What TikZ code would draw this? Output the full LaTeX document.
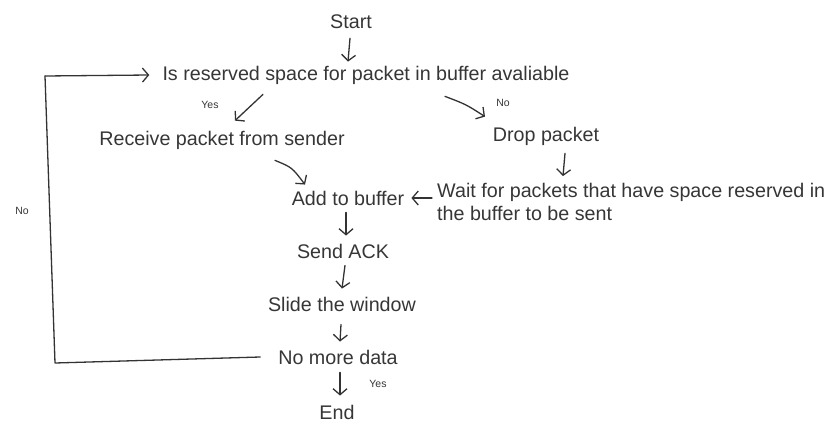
\documentclass[tikz,border=0pt]{standalone}
\usepackage{fontspec}
\setmainfont{Liberation Sans}
\usetikzlibrary{arrows.meta,calc}
\definecolor{ink}{HTML}{333333}
\definecolor{txt}{HTML}{363636}
\tikzset{
  lbl/.style={inner sep=0pt,text=txt,font=\fontsize{19.7}{23}\selectfont},
  small/.style={inner sep=0pt,text=txt,font=\fontsize{10.5}{12}\selectfont},
  arr/.style={draw=ink,line width=1.3pt,line cap=round,line join=round,-{Straight Barb[length=6pt,width=14pt,line width=1.3pt]}},
  ln/.style={draw=ink,line width=1.3pt,line cap=round,line join=round}
}
\begin{document}
\begin{tikzpicture}[x=1pt,y=-1pt]
\useasboundingbox (0,0) rectangle (830,436);
\node[lbl] (start) at (351,22) {Start};
\node[lbl] (q) at (366,75) {Is reserved space for packet in buffer avaliable};
\node[lbl] (recv) at (222,140) {Receive packet from sender};
\node[lbl] (drop) at (546,136) {Drop packet};
\node[lbl] (add) at (348,198) {Add to buffer};
\node[lbl,anchor=west,align=left] (wait) at (437,202) {Wait for packets that have space reserved in\\the buffer to be sent};
\node[lbl] (ack) at (343,251) {Send ACK};
\node[lbl] (slide) at (342,304) {Slide the window};
\node[lbl] (nomore) at (338,357) {No more data};
\node[lbl] (end) at (337,412) {End};
\node[small] (yes1) at (210,105) {Yes};
\node[small] (no1) at (503,103) {No};
\node[small] (no2) at (22,211) {No};
\node[small] (yes2) at (378,384) {Yes};
\coordinate (c1) at (55,363);
\coordinate (c2) at (45,76);
\draw[arr] ($(start.south)+(-1,9)$) -- ($(q.north)+(-18,-4)$);
\draw[arr] ($(q.south)+(-103,10)$) -- ($(recv.north)+(13,-10)$);
\draw[arr] ($(q.south)+(79,12)$) .. controls ($(q.south)+(100,20)$) .. ($(drop.north)+(-61,-10)$);
\draw[arr] ($(drop.south)+(19,8)$) -- ($(wait.north west)+(126,-7)$);
\draw[arr] ($(wait.west)+(-5,-4)$) -- ($(add.east)+(7,0)$);
\draw[arr] ($(recv.south)+(53,11)$) .. controls ($(recv.south)+(70,18)$) .. ($(add.north)+(-43,-6)$);
\draw[arr] ($(add.south)+(-2,7)$) -- ($(ack.north)+(3,-8)$);
\draw[arr] ($(ack.south)+(2,7)$) -- ($(slide.north)+(0,-8)$);
\draw[arr] ($(slide.south)+(-1,13)$) -- ($(nomore.north)+(2,-8)$);
\draw[arr] ($(nomore.south)+(2,8)$) -- ($(end.north)+(3,-9)$);
\draw[ln] ($(nomore.west)+(-18,0)$) -- (c1) -- (c2);
\draw[arr] (c2) -- ($(q.west)+(-13,0)$);
\end{tikzpicture}
\end{document}
